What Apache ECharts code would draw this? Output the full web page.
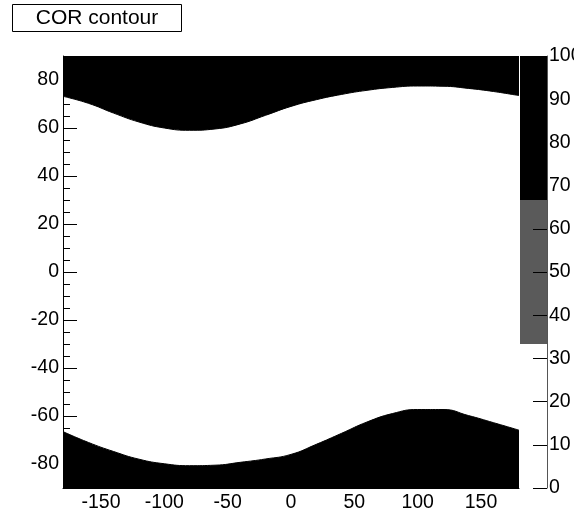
<!DOCTYPE html>
<html>
<head>
<meta charset="utf-8">
<script src="https://cdn.jsdelivr.net/npm/echarts@6/dist/echarts.min.js"></script>
<style>
  html, body { margin: 0; padding: 0; background: #fff; }
  #chart { width: 587px; height: 517px; }
</style>
</head>
<body>
<div id="chart"></div>
<script>
// Longitude samples along the two contour edges
const lonSamples = [-180, -160, -140, -120, -100, -80, -60, -40, -20, 0, 20, 40, 60, 80, 100, 120, 140, 160, 180];
// Latitude where the northern high-COR band begins
const upperEdge = [73.2, 70.3, 66.2, 62.5, 60.0, 59.05, 59.6, 61.7, 65.3, 69.0, 71.8, 74.0, 75.7, 76.9, 77.5, 77.4, 76.5, 75.2, 73.5];
// Latitude where the southern high-COR band ends
const lowerEdge = [-66.5, -71.0, -74.8, -78.0, -79.9, -80.7, -80.5, -79.3, -77.9, -76.0, -71.8, -67.2, -62.5, -59.0, -57.3, -57.3, -59.8, -62.8, -65.9];

// Tick labels
const xTickLabels = [-150, -100, -50, 0, 50, 100, 150];
const yTickLabels = [-80, -60, -40, -20, 0, 20, 40, 60, 80];
const yMinorTicks = [-85, -75, -70, -65, -55, -50, -45, -35, -30, -25, -15, -10, -5, 5, 10, 15, 25, 30, 35, 45, 50, 55, 65, 70, 75, 85];

// Contour levels and palette colours
const contourLevels = [0, 33.33, 66.67, 100];
const levelColors = ['#ffffff', '#5a5a5a', '#000000'];

const FONT = "'Liberation Sans', Arial, Helvetica, sans-serif";
const labelStyle = { color: '#000', fontSize: 19.5, fontFamily: FONT };

const chart = echarts.init(document.getElementById('chart'), null, { renderer: 'canvas' });

const upperData = lonSamples.map((x, i) => [x, upperEdge[i]]);
const lowerData = lonSamples.map((x, i) => [x, lowerEdge[i]]);

const paletteSeries = levelColors.map((c, i) => ({
  type: 'bar',
  xAxisIndex: 1,
  yAxisIndex: 2,
  stack: 'palette',
  barWidth: '100%',
  silent: true,
  itemStyle: { color: c },
  data: [contourLevels[i + 1] - contourLevels[i]]
}));

chart.setOption({
  animation: false,
  backgroundColor: '#fff',
  grid: [
    { left: 63, top: 56, width: 456, height: 432, outerBoundsMode: 'none' },
    { left: 520, top: 56, width: 27, height: 432, outerBoundsMode: 'none' }
  ],
  xAxis: [
    {
      type: 'value', gridIndex: 0, min: -180, max: 180,
      splitLine: { show: false },
      axisLine: { show: true, onZero: false, lineStyle: { color: '#000', width: 1 } },
      axisTick: { show: true, inside: true, length: 14, customValues: xTickLabels, lineStyle: { color: '#000' } },
      axisLabel: { customValues: xTickLabels, margin: 5, ...labelStyle },
      z: 10
    },
    {
      type: 'category', gridIndex: 1, data: ['COR'], show: false,
      boundaryGap: true
    }
  ],
  yAxis: [
    {
      type: 'value', gridIndex: 0, min: -90, max: 90,
      splitLine: { show: false },
      axisLine: { show: true, onZero: false, lineStyle: { color: '#000', width: 1 } },
      axisTick: { show: true, inside: true, length: 14, customValues: yTickLabels, lineStyle: { color: '#000' } },
      axisLabel: { customValues: yTickLabels, margin: 4, ...labelStyle },
      z: 10
    },
    {
      type: 'value', gridIndex: 0, min: -90, max: 90, position: 'left',
      splitLine: { show: false },
      axisLine: { show: false, onZero: false },
      axisTick: { show: true, inside: true, length: 7, customValues: yMinorTicks, lineStyle: { color: '#000' } },
      axisLabel: { show: false },
      z: 10
    },
    {
      type: 'value', gridIndex: 1, min: 0, max: 100, interval: 10, position: 'right',
      splitLine: { show: false },
      axisLine: { show: true, onZero: false, lineStyle: { color: '#555', width: 1 } },
      axisTick: { show: true, inside: true, length: 14, lineStyle: { color: '#000' } },
      axisLabel: { margin: 2, showMinLabel: true, showMaxLabel: true, ...labelStyle },
      z: 10
    }
  ],
  series: [
    {
      type: 'line', xAxisIndex: 0, yAxisIndex: 0,
      data: upperData, smooth: 0.5, showSymbol: false, silent: true,
      lineStyle: { color: '#000', width: 1 },
      areaStyle: { color: '#000', opacity: 1, origin: 'end' }
    },
    {
      type: 'line', xAxisIndex: 0, yAxisIndex: 0,
      data: lowerData, smooth: 0.5, showSymbol: false, silent: true,
      lineStyle: { color: '#000', width: 1 },
      areaStyle: { color: '#000', opacity: 1, origin: 'start' }
    },
    ...paletteSeries
  ],
  graphic: [
    {
      // pad edge: text past the right margin of the palette pad is cut off
      type: 'rect',
      shape: { x: 574, y: 0, width: 13, height: 80 },
      style: { fill: '#fff' },
      z: 100
    },
    {
      type: 'rect',
      shape: { x: 12.5, y: 4.5, width: 169, height: 27 },
      style: { fill: '#fff', stroke: '#000', lineWidth: 1 },
      z: 100
    },
    {
      type: 'text',
      x: 97, y: 18.5,
      style: {
        text: 'COR contour', fill: '#000', font: '21px ' + FONT,
        align: 'center', verticalAlign: 'middle'
      },
      z: 101
    }
  ]
});
</script>
</body>
</html>
